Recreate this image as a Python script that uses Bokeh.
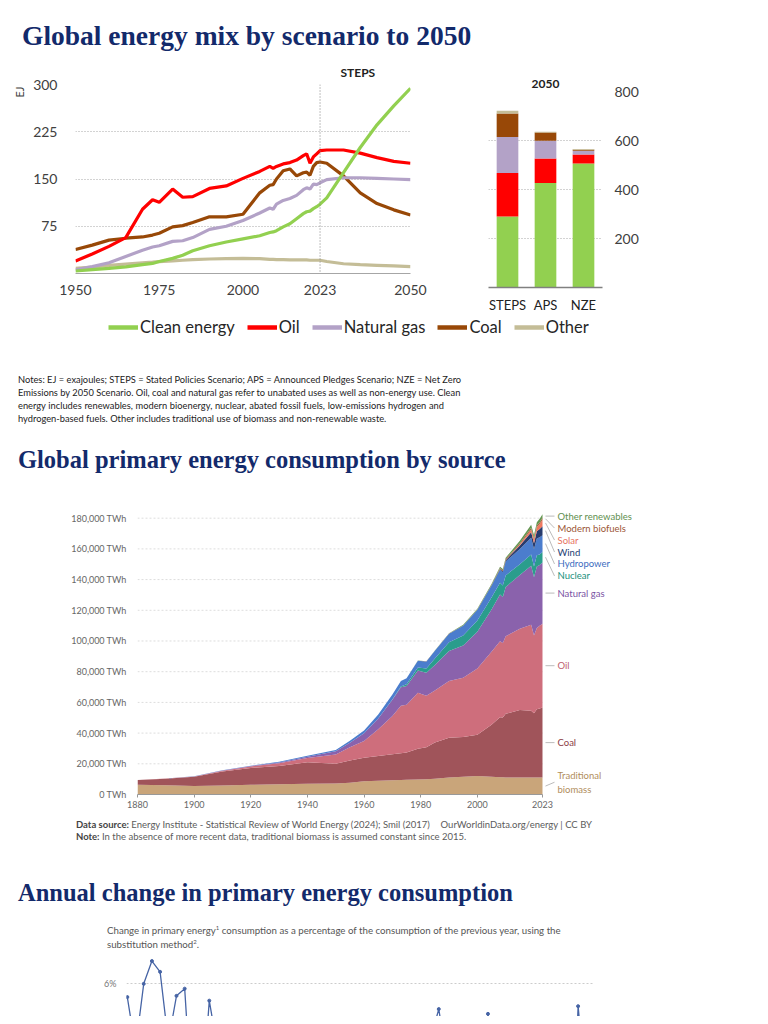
from bokeh.plotting import figure
from bokeh.models import (ColumnDataSource, Range1d, FactorRange, FixedTicker, Label,
                          Span, Legend, LegendItem, Div, Title)
from bokeh.layouts import column, row
from bokeh.embed import file_html
from bokeh.resources import INLINE

# ---------------- Chart 1: Global energy mix (STEPS), EJ ----------------
mix_years = [1950, 1955, 1960, 1965, 1970, 1973, 1975, 1979, 1982, 1985, 1990, 1995, 2000,
             2005, 2008, 2009, 2010, 2012, 2014, 2016, 2018, 2019, 2020, 2021, 2022, 2023,
             2025, 2030, 2035, 2040, 2045, 2050]
clean_energy = [4, 6, 8, 10.5, 14, 16, 19, 24, 29, 36, 44, 50, 55, 60, 65, 66, 68, 74, 79, 87,
                95, 98, 99, 103, 106, 110, 120, 160, 200, 236, 266, 294]
oil = [20, 31, 43, 57, 102, 117, 113, 134, 121, 122, 135, 139, 151, 162, 170, 167, 170, 174, 176,
       180, 187, 190, 175, 185, 190, 195, 196, 196, 191, 184, 178, 175]
natural_gas = [6, 11, 17, 27, 37, 42, 44, 51, 52, 57, 70, 75, 84, 96, 104, 102, 110, 116, 119, 124,
               133, 136, 134, 142, 141, 144, 149, 152, 152, 151, 150, 149]
coal = [38, 45, 53, 56, 58, 61, 64, 74, 76, 81, 90, 90, 94, 128, 140, 141, 150, 163, 166, 155, 160,
        161, 156, 170, 176, 177, 175, 155, 128, 111, 101, 93]
other = [8, 10, 13, 15, 17, 18, 19, 20, 21, 22, 23, 23.5, 24, 23.5, 22.5, 22.5, 22, 22, 21.5, 21.5,
         21.5, 21.5, 21, 21, 21, 21, 19, 15.5, 14, 13, 12, 11]
mix_ticks = [1950, 1975, 2000, 2023, 2050]
ej_ticks = [75, 150, 225, 300]
steps_start_year = 2023

# 2050 by scenario
scenarios = ["STEPS", "APS", "NZE"]
bar_clean = [290, 427, 506]
bar_oil = [177, 100, 37]
bar_gas = [147, 72, 15]
bar_coal = [96, 34, 4]
bar_other = [11, 3, 3]
bar_ticks = [200, 400, 600, 800]

mix_names = ["Clean energy", "Oil", "Natural gas", "Coal", "Other"]
mix_colors = ["#92d050", "#ff0000", "#b3a2c7", "#984807", "#c4bd97"]

# ---------------- Chart 2: primary energy by source, TWh ----------------
src_years = [1880, 1890, 1900, 1910, 1920, 1930, 1940, 1950, 1955, 1960, 1965, 1970, 1973, 1975,
             1979, 1982, 1985, 1990, 1995, 2000, 2005, 2008, 2009, 2010, 2015, 2019, 2020, 2021,
             2022, 2023]
traditional_biomass = [6400, 6000, 5600, 5800, 6300, 6700, 7000, 7200, 7700, 8700, 9000, 9300, 9500,
                       9600, 9800, 10000, 10300, 11000, 11500, 12000, 11500, 11300, 11200, 11100,
                       11000, 11000, 11000, 11000, 11000, 11000]
coal_twh = [3000, 4300, 5900, 9200, 11000, 11800, 14000, 12800, 14500, 15200, 16000, 16900, 17300,
            17800, 20000, 20800, 23500, 26000, 26000, 27000, 34000, 39000, 39000, 41500, 44000,
            43500, 42000, 44500, 45000, 45600]
oil_twh = [0, 100, 200, 500, 1000, 1800, 2700, 6000, 8500, 11000, 17500, 25000, 31000, 31000,
           36500, 33500, 34000, 37000, 38500, 43000, 47500, 49500, 48500, 50500, 53000, 56000,
           50500, 53000, 54000, 54600]
gas_twh = [0, 20, 60, 150, 300, 600, 900, 2100, 3000, 5000, 7000, 10500, 12000, 12300, 14500, 15000,
           16500, 19500, 21000, 24000, 27500, 30500, 30000, 32000, 35000, 38500, 38000, 40000,
           39500, 40000]
nuclear_twh = [0, 0, 0, 0, 0, 0, 0, 0, 0, 0, 80, 250, 600, 1100, 2000, 2800, 4300, 5700, 6600, 7300,
               7800, 7600, 7500, 7600, 7000, 7400, 7100, 7300, 6900, 6800]
hydro_twh = [0, 20, 50, 150, 200, 400, 600, 900, 1300, 1800, 2500, 3200, 3500, 3900, 4300, 4600,
             5000, 5500, 6400, 7000, 7700, 8500, 8500, 9000, 10000, 10900, 11100, 11000, 11200, 10900]
wind_twh = [0, 0, 0, 0, 0, 0, 0, 0, 0, 0, 0, 0, 0, 0, 0, 0, 0, 10, 20, 80, 260, 550, 700, 900, 2200,
            3600, 4000, 4700, 5300, 5900]
solar_twh = [0, 0, 0, 0, 0, 0, 0, 0, 0, 0, 0, 0, 0, 0, 0, 0, 0, 0, 0, 5, 10, 30, 50, 80, 650, 1800,
             2200, 2700, 3300, 4200]
biofuels_twh = [0, 0, 0, 0, 0, 0, 0, 0, 0, 0, 0, 0, 0, 0, 20, 40, 60, 100, 110, 120, 250, 580, 620,
                720, 880, 1050, 980, 1070, 1150, 1200]
other_renew_twh = [0, 0, 0, 0, 0, 0, 0, 0, 0, 0, 30, 50, 60, 70, 90, 110, 180, 300, 400, 500, 650,
                   800, 850, 900, 1500, 1900, 2000, 2100, 2200, 2300]
src_ticks = [1880, 1900, 1920, 1940, 1960, 1980, 2000, 2023]
twh_ticks = [0, 20000, 40000, 60000, 80000, 100000, 120000, 140000, 160000, 180000]

src_names = ["Traditional biomass", "Coal", "Oil", "Natural gas", "Nuclear", "Hydropower",
             "Wind", "Solar", "Modern biofuels", "Other renewables"]
src_labels = ["Traditional\nbiomass", "Coal", "Oil", "Natural gas", "Nuclear", "Hydropower",
              "Wind", "Solar", "Modern biofuels", "Other renewables"]
src_colors = ["#c9a57a", "#a0545a", "#ce6e7c", "#8a62ac", "#2a9d8c", "#4b7dcd", "#283c6e",
              "#f0785f", "#a55f3c", "#649650"]
src_text_colors = ["#b08d5c", "#8b3c44", "#c0606e", "#7a52a3", "#19917d", "#3d6cc0", "#243e73",
                   "#e7735f", "#9b5536", "#5f8f4f"]

# ---------------- Chart 3: annual change in primary energy, % ----------------
change_years = list(range(1966, 2024))
change_pct = [5.45, 3.3, 6.0, 6.95, 6.5, 3.6, 5.5, 5.8, 0.4, 0.6, 5.3, 3.3, 3.7, 2.8, -0.5, -0.4,
              -0.2, 1.6, 4.4, 2.1, 2.6, 3.1, 3.6, 2.1, 1.4, 0.7, 0.3, 1.0, 1.2, 2.7, 2.9, 1.1,
              0.5, 2.1, 2.9, 0.9, 2.6, 3.7, 4.95, 2.8, 2.6, 2.7, 1.4, -1.3, 4.75, 2.3, 1.8, 2.2,
              1.2, 1.0, 1.5, 2.1, 2.7, 1.2, -3.6, 5.07, 1.4, 2.0]
pct_ticks = [0, 2, 4, 6]

NAVY = "#132a6b"
TITLE_FONT = "Liberation Serif"
SANS = "Lato"


def title_div(text, h, pad_top, size, pad_left=18):
    return Div(text=f'<div style="padding:{pad_top}px 0 0 {pad_left}px;font-family:\'{TITLE_FONT}\';'
                    f'font-weight:bold;font-size:{size}px;color:{NAVY};white-space:nowrap;'
                    f'line-height:30px">{text}</div>',
               width=760, height=h, margin=0)


def solo(plot):
    # wrapping keeps the layout from aligning this plot's frame with its neighbours
    return column(plot, spacing=0)


# ---- line chart
p1 = figure(width=440, height=250, x_range=Range1d(1950, 2050), y_range=Range1d(0, 300),
            output_backend="svg", toolbar_location=None, min_border_left=75, min_border_right=30,
            min_border_top=28, min_border_bottom=33)
p1.title = Title(text="STEPS", align="left", offset=265, text_font=SANS, text_font_size="12px",
                 text_font_style="bold", text_color="#222222", standoff=10)
p1.add_layout(Title(text="EJ", align="right", text_font=SANS, text_font_size="11px",
                    text_font_style="normal", text_color="#404040", offset=2), "left")
p1.outline_line_color = None
p1.xgrid.visible = False
p1.ygrid.ticker = FixedTicker(ticks=ej_ticks)
p1.ygrid.grid_line_color = "#a6a6a6"
p1.ygrid.grid_line_dash = "1 2"
for series, color in zip([other, coal, natural_gas, oil, clean_energy], mix_colors[::-1]):
    p1.line(mix_years, series, line_color=color, line_width=3.2)
p1.xaxis.ticker = FixedTicker(ticks=mix_ticks)
p1.yaxis.ticker = FixedTicker(ticks=ej_ticks)
for ax in (p1.xaxis, p1.yaxis):
    ax.major_tick_line_color = None
    ax.minor_tick_line_color = None
    ax.major_label_text_font = SANS
    ax.major_label_text_font_size = "14px"
    ax.major_label_text_color = "#404040"
p1.yaxis.axis_line_color = None
p1.yaxis.major_label_standoff = 12
p1.xaxis.axis_line_color = "#a6a6a6"
p1.xaxis.major_label_standoff = 5
p1.add_layout(Span(location=steps_start_year, dimension="height", line_color="#7f7f7f",
                   line_dash="1 2", line_width=1))

# ---- bar chart
bar_src = ColumnDataSource(dict(scenario=scenarios, clean=bar_clean, oil=bar_oil, gas=bar_gas,
                                coal=bar_coal, other=bar_other))
p2 = figure(width=218, height=259, x_range=FactorRange(*scenarios), y_range=Range1d(0, 800),
            output_backend="svg", toolbar_location=None, y_axis_location="right",
            min_border_left=48, min_border_right=56, min_border_top=35, min_border_bottom=19)
p2.title = Title(text="2050", align="center", text_font=SANS, text_font_size="12px",
                 text_font_style="bold", text_color="#222222", standoff=7)
p2.outline_line_color = None
p2.xgrid.visible = False
p2.ygrid.ticker = FixedTicker(ticks=bar_ticks)
p2.ygrid.grid_line_color = "#a6a6a6"
p2.ygrid.grid_line_dash = "1 2"
p2.vbar_stack(["clean", "oil", "gas", "coal", "other"], x="scenario", width=0.57,
              color=mix_colors, source=bar_src, line_color=None)
p2.yaxis.ticker = FixedTicker(ticks=bar_ticks)
p2.yaxis.axis_line_color = None
p2.yaxis.major_label_standoff = 6
for ax in (p2.xaxis, p2.yaxis):
    ax.major_tick_line_color = None
    ax.minor_tick_line_color = None
    ax.major_label_text_font = SANS
    ax.major_label_text_color = "#404040"
p2.yaxis.major_label_text_font_size = "14px"
p2.xaxis.major_label_text_font_size = "13px"
p2.xaxis.major_label_text_color = "#222222"
p2.xaxis.axis_line_color = "#808080"
p2.xaxis.axis_line_width = 1.5
p2.xaxis.major_label_standoff = 3

# ---- legend strip
pl = figure(width=760, height=37, x_range=Range1d(0, 1), y_range=Range1d(0, 1),
            output_backend="svg", toolbar_location=None, min_border=0)
pl.axis.visible = False
pl.grid.visible = False
pl.outline_line_color = None
items = []
for name, color in zip(mix_names, mix_colors):
    # glyph kept outside the visible range: it only feeds the legend sample
    r = pl.line(x=[-10, -9], y=[-10, -9], line_color=color, line_width=4.5)
    items.append(LegendItem(label=name, renderers=[r]))
leg = Legend(items=items, orientation="horizontal", location=(108, 15), glyph_width=30,
             glyph_height=20, label_standoff=2, spacing=12, padding=0, margin=0,
             border_line_color=None, background_fill_alpha=0,
             label_text_font=SANS, label_text_font_size="16.5px",
             label_text_color="#262626")
pl.add_layout(leg, "center")

notes_lines = [
    "Notes: EJ = exajoules; STEPS = Stated Policies Scenario; APS = Announced Pledges Scenario; NZE = Net Zero",
    "Emissions by 2050 Scenario. Oil, coal and natural gas refer to unabated uses as well as non-energy use. Clean",
    "energy includes renewables, modern bioenergy, nuclear, abated fossil fuels, low-emissions hydrogen and",
    "hydrogen-based fuels. Other includes traditional use of biomass and non-renewable waste.",
]
notes_html = "".join(
    f"<div style='text-align:justify;text-align-last:{'justify' if i < 3 else 'left'};white-space:nowrap'>{t}</div>"
    for i, t in enumerate(notes_lines))
notes = Div(text=f"<div style='padding:21px 0 0 18px;width:444px;font-family:{SANS};font-size:9.3px;"
                 f"line-height:13px;color:#222'>{notes_html}</div>", width=760, height=88, margin=0)

# ---- OWID stacked area
src = ColumnDataSource(dict(year=src_years, **{n: v for n, v in zip(src_names, [
    traditional_biomass, coal_twh, oil_twh, gas_twh, nuclear_twh, hydro_twh, wind_twh, solar_twh,
    biofuels_twh, other_renew_twh])}))
px_per_year = 405 / (src_years[-1] - src_years[0])
frame_w = 533
p3 = figure(width=137 + frame_w, height=330,
            x_range=Range1d(src_years[0], src_years[0] + frame_w / px_per_year),
            y_range=Range1d(0, 185000),
            output_backend="svg", toolbar_location=None, min_border_left=137,
            min_border_right=0, min_border_top=28, min_border_bottom=18)
p3.outline_line_color = None
p3.grid.visible = False
p3.segment(x0=[src_years[0]] * len(twh_ticks), x1=[src_years[-1]] * len(twh_ticks),
           y0=twh_ticks, y1=twh_ticks, line_color="#dddddd", line_dash="2 2", line_width=1)
p3.varea_stack(stackers=src_names, x="year", color=src_colors, source=src)
p3.xaxis.ticker = FixedTicker(ticks=src_ticks)
p3.xaxis.bounds = (src_years[0], src_years[-1])
p3.yaxis.ticker = FixedTicker(ticks=twh_ticks)
p3.yaxis.major_label_overrides = {t: f"{t:,} TWh" for t in twh_ticks}
for ax in (p3.xaxis, p3.yaxis):
    ax.minor_tick_line_color = None
    ax.major_label_text_font = SANS
    ax.major_label_text_font_size = "9px"
    ax.major_label_text_color = "#666666"
p3.yaxis.axis_line_color = None
p3.yaxis.major_tick_line_color = None
p3.yaxis.major_label_standoff = 5
p3.xaxis.axis_line_color = "#999999"
p3.xaxis.major_tick_line_color = "#999999"
p3.xaxis.major_tick_out = 3
p3.xaxis.major_tick_in = 0
p3.xaxis.major_label_standoff = 3

# right-hand labels: band midpoints in the last year, pushed apart from the top down
last_vals = [src.data[n][-1] for n in src_names]
mids, cum = [], 0
for v in last_vals:
    mids.append(cum + v / 2)
    cum += v
gap = 7800
pos = list(mids)
for i in range(len(pos) - 2, -1, -1):
    pos[i] = min(pos[i], pos[i + 1] - gap)
pos[0] = max(pos[0], 8000)  # keep the two-line bottom label inside the frame
x_end = src_years[-1]
p3.segment(x0=[x_end + 3 / px_per_year] * len(pos), x1=[x_end + 12 / px_per_year] * len(pos),
           y0=mids, y1=pos, line_color="#aaaaaa", line_width=0.8)
for lab, yv, col in zip(src_labels, pos, src_text_colors):
    p3.add_layout(Label(x=x_end, y=yv, x_offset=15, text=lab, text_baseline="middle",
                        text_font=SANS, text_font_size="9.5px", text_color=col,
                        text_line_height=1.25))

source_div = Div(text=(
    f"<div style='padding:7px 0 0 76px;width:592px;font-family:{SANS};font-size:9.5px;"
    "line-height:12px;color:#5b5b5b'>"
    "<div style='display:flex;justify-content:space-between;white-space:nowrap'>"
    "<span><b style='color:#444'>Data source:</b> Energy Institute - Statistical Review of World Energy (2024); Smil (2017)</span>"
    "<span>OurWorldinData.org/energy | CC BY</span></div>"
    "<div style='white-space:nowrap'><b style='color:#444'>Note:</b> In the absence of more recent data, traditional biomass is assumed constant since 2015.</div>"
    "</div>"), width=760, height=40, margin=0)

sub_div = Div(text=(
    f"<div style='padding:7px 0 0 107px;font-family:{SANS};font-size:9.7px;line-height:12px;"
    "color:#555;white-space:nowrap'>Change in primary energy<sup style='font-size:6px'>1</sup> consumption as a "
    "percentage of the consumption of the previous year, using the<br>substitution method"
    "<sup style='font-size:6px'>2</sup>.</div>"), width=760, height=37, margin=0)

# ---- annual change line
p4 = figure(width=660, height=64, x_range=Range1d(1965.9, 2023), y_range=Range1d(4.64, 7.18),
            output_backend="svg", toolbar_location=None, x_axis_location=None,
            min_border_left=126, min_border_right=66, min_border_top=3, min_border_bottom=0)
p4.outline_line_color = None
p4.xgrid.visible = False
p4.ygrid.ticker = FixedTicker(ticks=pct_ticks)
p4.ygrid.grid_line_color = "#cccccc"
p4.ygrid.grid_line_dash = "2 2"
p4.line(change_years, change_pct, line_color="#4664a5", line_width=1.3)
p4.scatter(change_years, change_pct, size=3, color="#4664a5")
p4.yaxis.ticker = FixedTicker(ticks=pct_ticks)
p4.yaxis.major_label_overrides = {t: f"{t}%" for t in pct_ticks}
p4.yaxis.axis_line_color = None
p4.yaxis.major_tick_line_color = None
p4.yaxis.minor_tick_line_color = None
p4.yaxis.major_label_text_font = SANS
p4.yaxis.major_label_text_font_size = "9px"
p4.yaxis.major_label_text_color = "#777777"
p4.yaxis.major_label_standoff = 4

layout = column(
    title_div("Global energy mix by scenario to 2050", 56, 21, 27.5, pad_left=22),
    row(solo(p1), solo(p2), spacing=0),
    solo(pl),
    notes,
    title_div("Global primary energy consumption by source", 42, 5, 24.5),
    solo(p3),
    source_div,
    title_div("Annual change in primary energy consumption", 63, 26, 24.5),
    sub_div,
    solo(p4),
    spacing=0,
)

open("out.html", "w").write(file_html(layout, INLINE))
